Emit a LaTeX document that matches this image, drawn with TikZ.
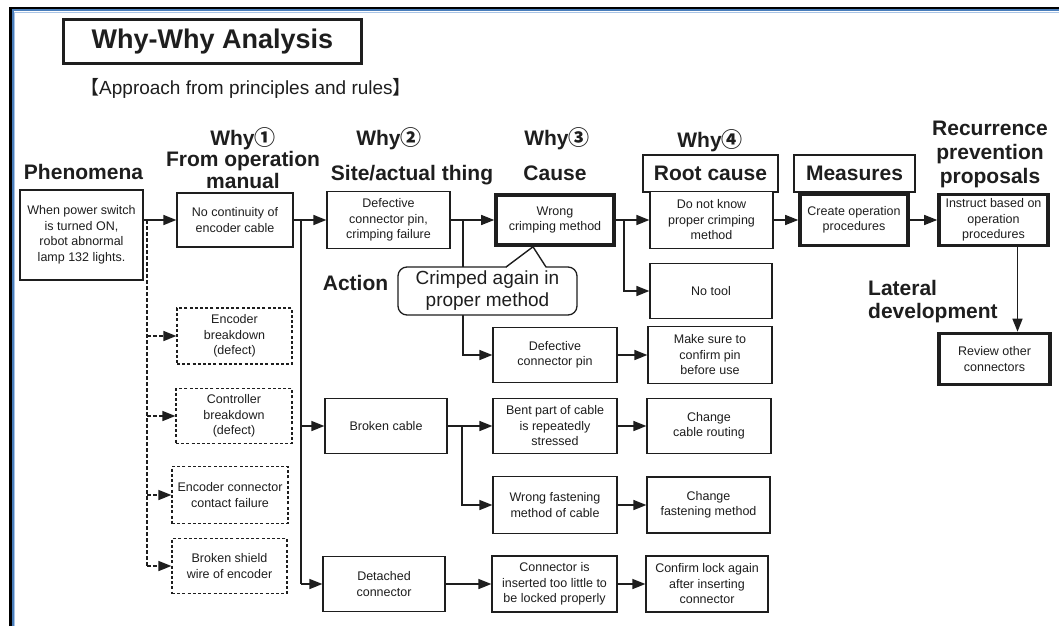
\documentclass[tikz,border=0pt]{standalone}
\usepackage{fontspec}
\setmainfont{Liberation Sans}
\newfontfamily\cjk{Noto Sans CJK JP}
\usetikzlibrary{arrows.meta,calc}
\definecolor{ink}{HTML}{1E1E1E}
\definecolor{frameblue}{HTML}{4A7EBB}
\definecolor{lightblue}{HTML}{A9C4E6}
\newcommand\smf{\fontsize{12.5}{15.5}\selectfont}
\newcommand\hdf{\fontsize{21}{21.5}\selectfont\bfseries}
\begin{document}
\begin{tikzpicture}[x=1pt,y=-1pt,
  sbox/.style={draw=ink, line width=1.2pt, align=center, inner sep=0pt, font=\smf, text=ink, fill=white},
  tbox/.style={sbox, line width=3.6pt},
  dbox/.style={sbox, dash pattern=on 3pt off 2.2pt},
  hd/.style={font=\hdf, text=ink, inner sep=0pt, align=center},
  ln/.style={draw=ink, line width=1.4pt},
  arr/.style={ln, -{Triangle[length=13pt,width=10pt]}},
  dln/.style={ln, dash pattern=on 3.5pt off 2.5pt},
  darr/.style={arr, dash pattern=on 3.5pt off 2.5pt}]
\useasboundingbox (0,0) rectangle (1059,626);
\fill[white] (0,0) rectangle (1059,626);
% frame
\draw[black, line width=2.5pt] (10.3,626) -- (10.3,7.8) -- (1059,7.8);
\draw[frameblue, line width=1.8pt] (12.6,626) -- (12.6,10.4) -- (1059,10.4);
\draw[lightblue, line width=1.2pt] (14.1,626) -- (14.1,12.2) -- (1059,12.2);
% title
\node[draw=ink, line width=2.8pt, minimum width=298pt, minimum height=44pt, inner sep=0pt,
      font=\fontsize{27}{30}\selectfont\bfseries, text=ink] (title) at (212.5,41.5) {Why-Why Analysis\hspace{14pt}};
\node[font=\fontsize{19}{22}\selectfont, text=ink, inner sep=0pt] (approach) at (246,88)
  {{\cjk 【}Approach from principles and rules{\cjk 】}};
% headers
\node[hd, anchor=base] (hphen) at (83.5,179.5) {Phenomena};
\node[hd] (hwhy1) at (243,158) {Why{\cjk ①}\\From operation\\manual};
\node[hd, anchor=base] (hwhy2) at (389,145.5) {Why{\cjk ②}};
\node[hd, anchor=base] (hsite) at (412,180.5) {Site/actual thing};
\node[hd, anchor=base] (hwhy3) at (557,145.5) {Why{\cjk ③}};
\node[hd, anchor=base] (hcause) at (555,180.5) {Cause};
\node[hd, anchor=base] (hwhy4) at (710,147.5) {Why{\cjk ④}};
\node[hd, draw=ink, line width=1.3pt, minimum width=135pt, minimum height=37pt] (hroot) at (710.5,173.5) {Root cause};
\node[hd, draw=ink, line width=1.3pt, minimum width=121pt, minimum height=37pt] (hmeas) at (854.5,173.5) {Measures};
\node[hd, font=\fontsize{21}{24}\selectfont\bfseries] (hrec) at (990,154) {Recurrence\\prevention\\proposals};
\node[hd, anchor=base] (haction) at (355.5,290.5) {Action};
\node[hd, font=\fontsize{21}{23}\selectfont\bfseries, align=left, anchor=west] (hlat) at (868,301.5) {Lateral\\development};
% boxes
\node[sbox, minimum width=123pt, minimum height=90pt] (phen) at (81.5,235) {When power switch\\is turned ON,\\robot abnormal\\lamp 132 lights.};
\node[sbox, minimum width=116pt, minimum height=54pt] (w1) at (235,220) {No continuity of\\encoder cable};
\node[sbox, minimum width=123pt, minimum height=57pt] (w2) at (388.5,220) {Defective\\connector pin,\\crimping failure};
\node[tbox, minimum width=118pt, minimum height=50pt] (cause) at (555,220) {Wrong\\crimping method};
\node[sbox, minimum width=123pt, minimum height=57pt] (root1) at (711.5,220) {Do not know\\proper crimping\\method};
\node[tbox, minimum width=108pt, minimum height=51pt] (meas) at (854,220) {Create operation\\procedures};
\node[tbox, minimum width=109pt, minimum height=51pt] (prev) at (993.5,220) {Instruct based on\\operation\\procedures};
\node[tbox, minimum width=111pt, minimum height=51pt] (review) at (994.5,359) {Review other\\connectors};
\node[sbox, minimum width=122pt, minimum height=55pt] (notool) at (711,291) {No tool};
\node[sbox, minimum width=124pt, minimum height=55pt] (defpin) at (555,355) {Defective\\connector pin};
\node[sbox, minimum width=124pt, minimum height=57pt] (makesure) at (710,355) {Make sure to\\confirm pin\\before use};
\node[sbox, minimum width=122pt, minimum height=55pt] (broken) at (386,426) {Broken cable};
\node[sbox, minimum width=124pt, minimum height=55pt] (bent) at (555,426) {Bent part of cable\\is repeatedly\\stressed};
\node[sbox, minimum width=124pt, minimum height=55pt] (routing) at (709,426) {Change\\cable routing};
\node[sbox, minimum width=124pt, minimum height=57pt] (fasten) at (555,505) {Wrong fastening\\method of cable};
\node[sbox, minimum width=123pt, minimum height=56pt] (chfasten) at (708.5,505) {Change\\fastening method};
\node[sbox, minimum width=122pt, minimum height=55pt] (detached) at (384,584) {Detached\\connector};
\node[sbox, minimum width=125pt, minimum height=56pt] (insert) at (554.5,584) {Connector is\\inserted too little to\\be locked properly};
\node[sbox, minimum width=122pt, minimum height=56pt] (confirm) at (707,584) {Confirm lock again\\after inserting\\connector};
\node[dbox, minimum width=115pt, minimum height=56pt] (enc) at (234.5,336) {Encoder\\breakdown\\(defect)};
\node[dbox, minimum width=116pt, minimum height=55pt] (ctrl) at (234,416) {Controller\\breakdown\\(defect)};
\node[dbox, minimum width=116pt, minimum height=57pt] (encconn) at (230,495) {Encoder connector\\contact failure};
\node[dbox, minimum width=115pt, minimum height=55pt] (shield) at (229.5,566) {Broken shield\\wire of encoder};
% connectors
\coordinate (dtop) at (147,220);
\coordinate (b1) at (301,220);
\coordinate (b2) at (463,220);
\coordinate (b3) at (624,220);
\coordinate (b4) at (462,426);
\draw[arr] (phen.east |- w1) -- (w1.west);
\draw[dln] (dtop) -- (dtop |- shield);
\draw[darr] (dtop |- enc) -- (enc.west);
\draw[darr] (dtop |- ctrl) -- (ctrl.west);
\draw[darr] (dtop |- encconn) -- (encconn.west);
\draw[darr] (dtop |- shield) -- (shield.west);
\draw[ln] (w1.east) -- (b1) -- (b1 |- detached);
\draw[arr] (b1) -- (w2.west);
\draw[arr] (b1 |- broken) -- (broken.west);
\draw[arr] (b1 |- detached) -- (detached.west);
\draw[arr] (w2.east) -- (cause.west);
\draw[arr] (b2) |- (defpin.west);
\draw[arr] (cause.east) -- (root1.west);
\draw[arr] (b3) |- (notool.west);
\draw[arr] (root1.east) -- (meas.west);
\draw[arr] (meas.east) -- (prev.west);
\draw[arr] ([xshift=24pt]prev.south) -- ([xshift=24pt]prev.south |- review.north);
\draw[arr] (defpin.east) -- (makesure.west);
\draw[arr] (broken.east) -- (bent.west);
\draw[arr] (b4) |- (fasten.west);
\draw[arr] (bent.east) -- (routing.west);
\draw[arr] (fasten.east) -- (chfasten.west);
\draw[arr] (detached.east) -- (insert.west);
\draw[arr] (insert.east) -- (confirm.west);
% callout
\node[draw=ink, line width=1.3pt, rounded corners=9pt, fill=white, minimum width=179pt, minimum height=48pt,
      inner sep=0pt, align=center, text=ink, font=\fontsize{19}{22}\selectfont] (callout) at (487.5,291)
  {Crimped again in\\proper method};
\coordinate (tip) at ([xshift=-22pt]cause.south);
\fill[white] (506,268.2) -- (tip) -- (546,268.2) -- cycle;
\draw[ln, line join=miter] (506,267) -- (tip) -- (546,267);
\end{tikzpicture}
\end{document}
